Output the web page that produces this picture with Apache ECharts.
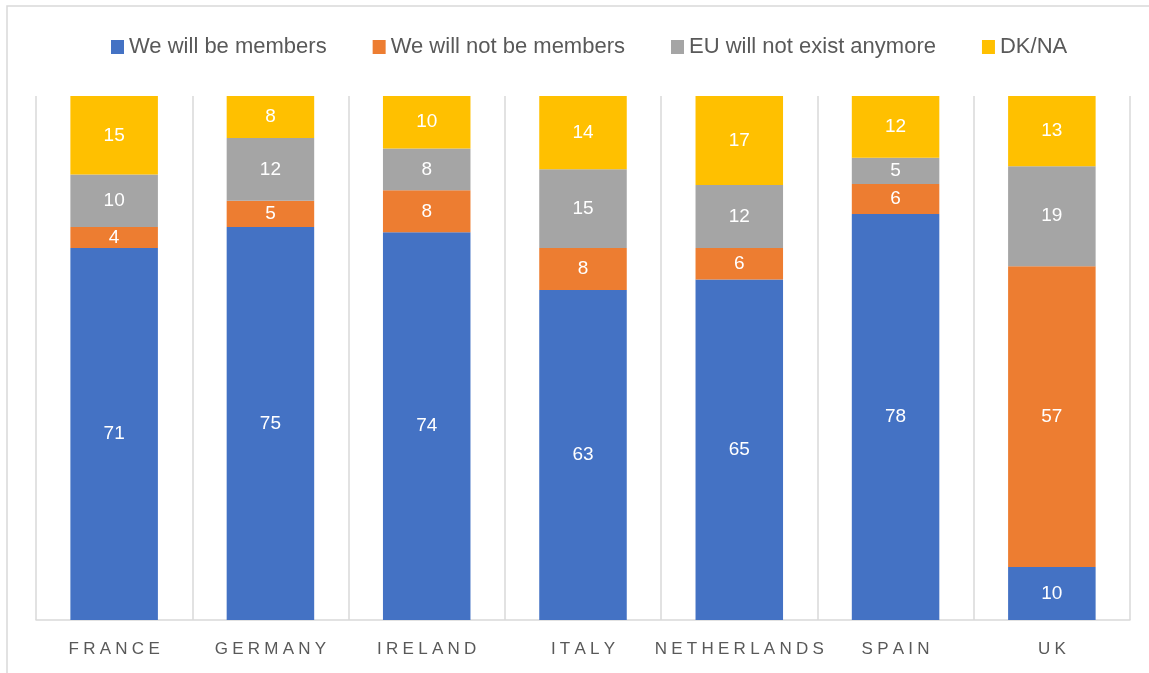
<!DOCTYPE html>
<html>
<head>
<meta charset="utf-8">
<script src="https://cdn.jsdelivr.net/npm/echarts@6/dist/echarts.min.js"></script>
<style>
  html, body { margin: 0; padding: 0; background: #fff; }
  #chart { width: 1149px; height: 673px; }
</style>
</head>
<body>
<div id="chart"></div>
<script>
// data (labels are rounded, bar heights estimated)
const countries = ['FRANCE', 'GERMANY', 'IRELAND', 'ITALY', 'NETHERLANDS', 'SPAIN', 'UK']
const members = [71, 75, 74, 63, 65, 77.5, 10.1]
const notMembers = [4, 5, 8, 8, 6, 5.7, 57.4]
const noEu = [10, 12, 8, 15, 12, 5, 19.1]
const dkna = [15, 8, 10, 14, 17, 11.8, 13.4]

const seriesNames = ['We will be members', 'We will not be members', 'EU will not exist anymore', 'DK/NA']
const colors = ['#4472c4', '#ed7d31', '#a5a5a5', '#ffc000']
const font = 'Liberation Sans'

const mkSeries = (name, data, color) => ({
  name,
  type: 'bar',
  stack: 'all',
  data,
  barWidth: '56%',
  itemStyle: { color },
  label: {
    show: true,
    position: 'inside',
    color: '#fff',
    fontSize: 19,
    fontFamily: font,
    formatter: (p) => Math.round(p.value)
  }
})

const chart = echarts.init(document.getElementById('chart'))
chart.setOption({
  animation: false,
  color: colors,
  graphic: [
    {
      type: 'rect',
      shape: { x: 7, y: 6, width: 1160, height: 690 },
      style: { fill: 'none', stroke: '#d9d9d9', lineWidth: 1.5 },
      silent: true,
      z: -1
    }
  ],
  legend: {
    top: 31,
    left: 106,
    itemWidth: 13,
    itemHeight: 14,
    itemGap: 46,
    icon: 'rect',
    textStyle: { color: '#595959', fontSize: 22, fontFamily: font }
  },
  grid: { left: 36, right: 19, top: 96, bottom: 53 },
  xAxis: {
    type: 'category',
    data: countries,
    axisLine: { lineStyle: { color: '#d9d9d9', width: 1.5 } },
    axisTick: { show: false, interval: 0 },
    splitLine: { show: true, interval: 0, lineStyle: { color: '#d9d9d9', width: 1.5 } },
    axisLabel: {
      interval: 0,
      color: '#595959',
      fontSize: 17,
      fontFamily: font,
      margin: 21,
      formatter: (v) => v.split('').join('\u2005')
    }
  },
  yAxis: {
    type: 'value',
    min: 0,
    max: 100,
    show: false
  },
  series: [
    mkSeries(seriesNames[0], members, colors[0]),
    mkSeries(seriesNames[1], notMembers, colors[1]),
    mkSeries(seriesNames[2], noEu, colors[2]),
    mkSeries(seriesNames[3], dkna, colors[3])
  ]
})
</script>
</body>
</html>
